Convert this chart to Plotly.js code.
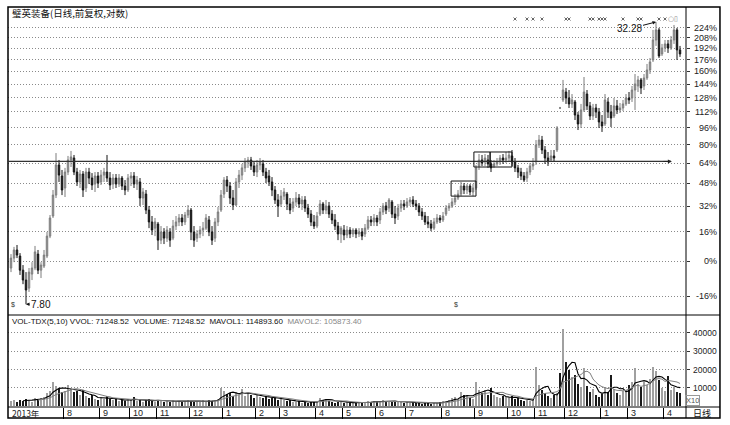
<!DOCTYPE html>
<html><head><meta charset="utf-8">
<script src="https://cdn.plot.ly/plotly-3.0.1.min.js"></script>
<style>html,body{margin:0;padding:0;background:#fff;}#chart{width:730px;height:425px;}</style>
</head><body><div id="chart"></div>
<script>
const basePrice = 9.68;
const openP = [
9.36,9.84,10.25,9.94,9.26,8.81,8.46,9.08,9.36,10.04,
9.26,9.45,9.94,10.99,12.16,13.51,15.72,14.87,14.00,15.17,
16.12,16.28,15.17,14.43,15.02,14.00,15.17,14.72,14.28,14.87,
14.43,14.94,15.17,14.72,14.28,14.72,14.28,14.72,14.14,13.86,
14.72,14.87,14.28,14.43,13.31,13.58,12.53,11.80,11.44,11.68,
10.77,11.22,10.88,11.22,10.88,11.56,11.80,12.04,11.80,12.22,
12.53,11.22,10.88,11.11,11.33,11.44,11.92,11.22,10.88,11.80,
12.53,13.58,14.57,14.14,13.31,12.85,14.43,14.94,15.49,15.96,
16.12,15.64,15.17,15.72,15.80,15.17,14.87,14.43,13.86,13.18,
12.92,13.44,13.58,12.92,12.66,13.05,13.31,12.92,13.18,12.66,
12.28,11.80,11.56,12.28,12.92,12.53,12.79,12.28,11.92,11.56,
11.11,11.33,11.05,11.33,11.11,11.33,11.11,11.22,11.11,11.44,
11.92,11.80,12.04,11.92,12.41,12.79,12.66,13.05,12.28,12.16,
12.66,12.92,12.79,13.05,13.18,12.92,12.79,12.41,12.16,11.80,
11.68,11.44,11.80,12.04,11.92,12.28,12.66,12.79,13.05,13.31,
13.58,14.14,13.86,14.14,13.72,14.00,15.64,16.12,15.96,16.12,
15.80,15.64,15.80,15.96,16.28,16.12,16.28,16.45,15.96,15.49,
15.17,14.87,14.72,15.17,15.64,15.96,17.38,17.82,16.95,16.28,
16.12,16.45,16.95,20.94,21.80,22.69,22.02,21.37,21.58,20.21,
19.32,20.73,22.46,21.16,20.11,20.94,20.52,19.51,19.32,21.58,
20.52,20.11,21.16,20.73,20.94,21.37,22.02,22.02,22.92,23.39,
24.11,23.39,24.35,25.35,26.66,29.48,31.01,27.48,28.32,28.90,
28.32,29.48,31.01,28.04];
const highP = [
10.04,10.41,10.51,10.09,9.50,9.17,9.36,9.64,10.46,10.25,
9.64,10.25,11.22,12.22,13.86,16.69,16.12,15.33,15.49,16.45,
16.87,16.53,15.49,15.33,15.25,15.49,15.49,15.09,15.17,15.17,
15.33,15.49,16.53,15.17,15.02,15.02,15.02,14.87,14.57,15.02,
15.17,15.17,14.87,14.72,14.00,13.86,12.79,12.16,12.04,11.80,
11.56,11.44,11.56,11.44,11.92,12.16,12.28,12.28,12.41,12.85,
12.66,11.56,11.33,11.56,11.80,12.28,12.16,11.56,12.04,12.72,
13.86,14.79,14.87,14.43,13.86,14.72,15.33,15.80,16.28,16.37,
16.37,15.96,16.12,16.28,16.12,15.49,15.33,14.79,14.14,13.58,
13.86,14.00,13.72,13.31,13.31,13.72,13.58,13.44,13.44,12.92,
12.53,12.22,12.41,13.18,13.05,13.18,13.05,12.53,12.28,11.80,
11.56,11.62,11.56,11.50,11.44,11.44,11.44,11.44,11.68,12.16,
12.16,12.28,12.22,12.66,12.98,13.05,13.31,13.18,12.79,12.92,
13.18,13.18,13.31,13.38,13.44,13.18,12.98,12.66,12.41,12.16,
11.92,12.04,12.28,12.22,12.41,12.85,12.98,13.31,13.58,13.86,
14.43,14.35,14.28,14.28,14.28,15.72,16.61,16.53,16.61,16.53,
16.12,16.12,16.28,16.53,16.61,16.78,16.87,16.95,16.28,15.72,
15.49,15.17,15.49,15.88,16.28,17.82,18.28,18.19,17.29,16.78,
16.95,16.95,19.12,21.05,24.11,23.16,22.92,22.46,21.80,20.52,
21.37,24.47,22.92,21.58,21.37,21.37,20.94,20.21,22.46,22.02,
21.26,22.02,21.80,21.47,21.80,22.46,22.69,23.39,24.84,24.60,
24.35,24.84,26.13,26.93,31.01,32.28,31.32,28.90,29.48,29.48,
30.08,31.79,31.32,28.61];
const lowP = [
9.17,9.64,9.84,9.04,8.63,7.80,8.30,8.81,9.26,9.08,
8.90,9.36,9.84,10.88,12.04,13.31,14.43,13.51,13.38,14.94,
15.56,14.94,14.14,14.00,13.38,13.72,14.28,13.86,13.72,14.00,
14.21,14.43,14.43,13.86,13.93,14.00,14.07,13.86,13.51,13.72,
14.14,14.00,13.86,12.79,12.85,12.28,11.44,11.05,10.99,10.25,
10.56,10.56,10.67,10.41,10.77,11.33,11.56,11.56,11.62,12.04,
10.77,10.41,10.67,10.88,10.99,11.33,10.99,10.51,10.67,11.56,
12.41,13.31,13.72,12.92,12.53,12.79,14.00,14.57,15.17,15.49,
15.33,14.87,14.79,15.33,14.87,14.35,14.14,13.44,12.92,12.10,
12.72,13.18,12.53,12.28,12.41,12.79,12.66,12.53,12.41,12.04,
11.56,11.39,11.44,12.16,12.28,12.28,12.04,11.68,11.33,10.77,
10.62,10.77,10.88,10.88,10.94,10.88,10.94,10.77,10.94,11.33,
11.56,11.56,11.56,11.68,12.22,12.28,12.41,12.04,11.68,11.92,
12.41,12.53,12.66,12.79,12.72,12.53,12.16,11.92,11.62,11.44,
11.27,11.33,11.68,11.74,11.80,12.16,12.47,12.66,12.85,13.18,
13.44,13.58,13.58,13.51,13.44,13.86,15.33,15.64,15.64,15.49,
15.17,15.49,15.64,15.72,15.80,15.88,15.96,15.64,15.17,14.72,
14.57,14.43,14.43,14.94,15.33,15.72,17.12,16.61,15.80,15.64,
15.96,15.96,16.78,20.84,21.58,21.37,20.94,20.94,19.71,18.74,
18.93,20.52,20.73,19.71,19.71,19.91,18.93,18.56,19.12,19.91,
19.03,19.91,20.31,20.42,20.62,21.16,21.37,21.58,20.73,22.69,
22.46,22.92,24.11,24.85,26.39,28.61,26.93,27.20,27.76,27.62,
28.04,28.90,26.66,27.07];
const closeP = [
9.84,10.25,9.99,9.26,8.81,8.38,9.17,9.36,10.15,9.26,
9.50,9.99,10.99,12.04,13.51,15.72,14.94,13.86,15.17,16.12,
16.37,15.17,14.43,15.02,13.86,15.17,14.72,14.21,14.87,14.35,
14.94,15.17,14.72,14.21,14.72,14.28,14.72,14.14,13.86,14.72,
14.87,14.28,14.57,13.31,13.72,12.53,11.80,11.33,11.80,10.77,
11.22,10.88,11.33,10.77,11.56,11.80,12.04,11.80,12.22,12.53,
11.22,10.77,11.11,11.33,11.44,12.04,11.22,10.77,11.80,12.41,
13.51,14.57,14.14,13.31,12.85,14.43,14.94,15.49,15.96,16.12,
15.64,15.17,15.72,15.96,15.17,14.72,14.43,13.86,13.18,12.79,
13.44,13.72,12.92,12.53,13.05,13.31,12.92,13.18,12.66,12.28,
11.80,11.56,12.16,12.92,12.53,12.79,12.28,11.92,11.56,11.11,
11.44,11.05,11.33,11.11,11.33,11.11,11.22,10.99,11.44,11.92,
11.80,12.04,11.80,12.41,12.79,12.53,13.18,12.28,12.04,12.66,
12.92,12.79,13.05,13.18,12.92,12.79,12.41,12.16,11.80,11.68,
11.44,11.80,12.04,11.92,12.16,12.66,12.79,13.05,13.31,13.58,
14.14,13.86,14.14,13.72,14.00,15.49,16.12,15.88,16.28,15.80,
15.49,15.80,15.96,16.28,16.12,16.28,16.53,15.96,15.49,15.17,
14.87,14.57,15.17,15.64,15.80,17.38,17.82,16.95,16.28,15.96,
16.45,16.28,18.93,20.94,22.92,22.02,21.37,21.80,20.21,19.32,
20.73,22.69,21.16,20.11,20.94,20.52,19.51,19.12,21.80,20.52,
19.91,21.16,20.73,20.94,21.37,22.02,21.80,22.92,23.63,24.11,
23.16,24.35,25.35,26.40,29.48,31.01,27.20,28.32,28.90,28.32,
29.48,31.01,28.04,27.48];
const volume = [
2800,3200,2500,3600,3000,4200,3400,2600,4800,3800,
4400,5200,7000,8200,13500,11000,9200,7800,8600,11800,
9500,7600,8200,6200,9000,5400,4800,6000,4200,3600,
5200,4000,5600,3800,3200,4400,3000,3600,2800,4200,
3400,5000,3000,3800,2600,3400,4000,3000,2400,3600,
2800,2200,3000,2400,3400,2600,3000,2200,2800,3600,
3000,2400,2800,2200,3200,2600,3400,2800,3200,4200,
10200,8600,6800,7400,5600,8000,6400,9200,5800,7000,
6200,4800,6600,5200,4400,5600,3800,4600,5200,3600,
4000,3400,3000,3600,2600,2200,2800,2000,2400,1800,
2200,2600,3000,4800,3600,4200,2800,2400,2000,2600,
2200,1800,2400,2000,1600,2200,1800,2000,2400,2800,
2200,3000,2400,2800,3200,2600,3000,2400,2800,2200,
2600,2000,2400,1800,2200,1600,2000,1400,1800,1600,
1400,2000,1800,2400,3000,2600,3600,4400,5200,4000,
8000,6400,5600,4800,4000,13000,9000,7400,8800,6200,
10000,6000,5200,4600,5800,5000,4400,5400,3800,4600,
3400,3000,3600,2800,4000,21500,11500,9000,7000,5600,
4800,6400,7200,18000,42000,24000,20000,16000,17000,12000,
10500,21000,11000,8000,9400,6000,5200,6800,10500,8000,
17000,9500,7000,6200,8400,9000,11500,13500,21000,12000,
10500,13000,11500,15000,21500,19000,14500,10000,8500,16500,
9000,10500,8000,7000];
const pctTicks = [-16,0,16,32,48,64,80,96,112,128,144,160,176,192,208,224];
const volTicks = [10000,20000,30000,40000];
const monthStart = [18,30,40,49,60,71,82,90,102,111,122,132,144,155,166,175,185,197,206,218];
const monthLabels = ['8','9','10','11','12','1','2','3','4','5','6','7','8','9','10','11','12','1','3','4'];
const infoMarks = [168,172,174,177,185,186,193,194,196,197,198,204,209,210,216,218];
const lowIdx = 5, lowVal = 7.80;
const highIdx = 215, highVal = 32.28;
const levelPrice = 16.0;
const titleText = '璧英装备(日线,前复权,对数)';
const volLabel = 'VOL-TDX(5,10) VVOL: 71248.52  VOLUME: 71248.52  MAVOL1: 114893.60  <span style="color:#888">MAVOL2: 105873.40</span>';

const idx = openP.map((_, i) => i);
const isUp = closeP.map((c, i) => c > openP[i]);
function ma(arr, n) { return arr.map((_, i) => i < n - 1 ? null : arr.slice(i - n + 1, i + 1).reduce((a, b) => a + b, 0) / n); }
const L10 = v => Math.log10(v);

const traces = [
  {type:'candlestick', x:idx, open:openP, high:highP, low:lowP, close:closeP, xaxis:'x', yaxis:'y',
   increasing:{line:{color:'#7c7c7c', width:1}, fillcolor:'#a8a8a8'},
   decreasing:{line:{color:'#151515', width:1}, fillcolor:'#151515'}, whiskerwidth:0, hoverinfo:'skip'},
  {type:'bar', x:idx, y:volume, xaxis:'x', yaxis:'y2', width:0.62,
   marker:{color:isUp.map(u => u ? '#a0a0a0' : '#1a1a1a'), line:{width:0}}, hoverinfo:'skip'},
  {type:'scatter', mode:'lines', x:idx, y:ma(volume,5), xaxis:'x', yaxis:'y2', line:{color:'#000', width:1.1}, hoverinfo:'skip'},
  {type:'scatter', mode:'lines', x:idx, y:ma(volume,10), xaxis:'x', yaxis:'y2', line:{color:'#808080', width:1}, hoverinfo:'skip'},
  {type:'scatter', mode:'markers', x:infoMarks, y:infoMarks.map(() => 0.961), xaxis:'x', yaxis:'y3',
   marker:{symbol:'x-thin', size:3, line:{width:0.9, color:'#555'}}, hoverinfo:'skip'}
];

const ann = [];
const baseFont = {family:'Liberation Sans, Arial, sans-serif', size:9, color:'#222'};
ann.push({xref:'paper', yref:'paper', x:0.003, y:0.985, xanchor:'left', yanchor:'middle', text:titleText, showarrow:false,
  font:{family:'Noto Sans CJK SC, sans-serif', size:9.5, color:'#111'}});
ann.push({xref:'paper', yref:'paper', x:0.003, y:0.215, xanchor:'left', yanchor:'middle', text:volLabel, showarrow:false,
  font:{family:'Liberation Sans, Arial, sans-serif', size:8, color:'#111'}});
pctTicks.forEach(p => ann.push({xref:'paper', yref:'y', x:1.0487, y:L10(basePrice*(1+p/100)), xanchor:'right', yanchor:'middle',
  text:p + '%', showarrow:false, font:baseFont}));
volTicks.forEach(v => ann.push({xref:'paper', yref:'y2', x:1.0487, y:v, xanchor:'right', yanchor:'middle',
  text:String(v), showarrow:false, font:{family:'Liberation Sans, Arial, sans-serif', size:8.5, color:'#222'}}));
ann.push({xref:'paper', yref:'paper', x:1.0103, y:0.0175, xanchor:'center', yanchor:'middle', text:'X10', showarrow:false,
  bordercolor:'#999', borderwidth:1, borderpad:0, font:{family:'Liberation Sans, Arial, sans-serif', size:7.5, color:'#555'}});
monthStart.forEach((m, k) => ann.push({xref:'x', yref:'paper', x:m - 0.5, y:-0.016, xanchor:'left', yanchor:'middle', xshift:1,
  text:monthLabels[k], showarrow:false, font:{family:'Liberation Sans, Arial, sans-serif', size:9, color:'#222'}}));
ann.push({xref:'paper', yref:'paper', x:0.003, y:-0.016, xanchor:'left', yanchor:'middle', text:'2013年', showarrow:false,
  font:{family:'Noto Sans CJK SC, sans-serif', size:8.5, color:'#222'}});
ann.push({xref:'paper', yref:'paper', x:1.0236, y:-0.016, xanchor:'center', yanchor:'middle', text:'日线', showarrow:false,
  font:{family:'Noto Sans CJK SC, sans-serif', size:9, color:'#111'}});
ann.push({xref:'x', yref:'y', x:lowIdx, y:L10(lowVal), ax:15, ay:0, text:lowVal.toFixed(2), showarrow:true,
  arrowhead:2, arrowsize:0.7, arrowwidth:1, arrowcolor:'#111', standoff:0, font:{family:'Liberation Sans, Arial, sans-serif', size:10, color:'#111'}});
ann.push({xref:'x', yref:'y', x:highIdx, y:L10(highVal), ax:-27, ay:7, text:highVal.toFixed(2), showarrow:true,
  arrowhead:2, arrowsize:0.7, arrowwidth:1, arrowcolor:'#111', standoff:0, font:{family:'Liberation Sans, Arial, sans-serif', size:10, color:'#111'}});
ann.push({xref:'x', yref:'y', x:220.3, y:L10(levelPrice), ax:-10, ay:0, text:'', showarrow:true,
  arrowhead:2, arrowsize:0.8, arrowwidth:1, arrowcolor:'#222', standoff:0});
[0.67, 148.3].forEach(m => ann.push({xref:'x', yref:'paper', x:m, y:0.243, text:'$', showarrow:false,
  font:{family:'Liberation Sans, Arial, sans-serif', size:7, color:'#333'}}));
ann.push({xref:'paper', yref:'paper', x:0.9912, y:0.985, text:'○▯', showarrow:false,
  font:{family:'DejaVu Sans, sans-serif', size:7, color:'#888'}});

const shapes = [
  {type:'rect', xref:'paper', yref:'paper', x0:0, x1:1.0501, y0:-0.0275, y1:1, line:{color:'#000', width:1.5}},
  {type:'line', xref:'paper', yref:'paper', x0:0, x1:1.0501, y0:0.23, y1:0.23, line:{color:'#000', width:1}},
  {type:'line', xref:'paper', yref:'paper', x0:0, x1:1.0501, y0:0, y1:0, line:{color:'#000', width:1}},
  {type:'line', xref:'paper', yref:'paper', x0:1, x1:1, y0:-0.0275, y1:1, line:{color:'#000', width:1}},
  {type:'line', xref:'x', yref:'y', x0:-1, x1:220, y0:levelPrice, y1:levelPrice, line:{color:'#333', width:1.2}},
  {type:'rect', xref:'x', yref:'y', x0:146.7, x1:155, y0:13.44, y1:14.50, line:{color:'#111', width:1}},
  {type:'rect', xref:'x', yref:'y', x0:154.3, x1:159.7, y0:15.56, y1:16.78, line:{color:'#111', width:1}},
  {type:'rect', xref:'x', yref:'y', x0:159.7, x1:167, y0:15.56, y1:16.78, line:{color:'#111', width:1}}
];

const layout = {
  width:730, height:425, margin:{l:8, r:44, t:7, b:18}, paper_bgcolor:'#fff', plot_bgcolor:'#fff', showlegend:false,
  font:baseFont, bargap:0,
  xaxis:{range:[-1,225], anchor:'y2', showgrid:false, zeroline:false, showline:false, tickmode:'array',
    tickvals:monthStart.map(m => m - 0.5), ticks:'outside', ticklen:11, tickcolor:'#000', tickwidth:1,
    showticklabels:false, rangeslider:{visible:false}, fixedrange:true},
  yaxis:{domain:[0.23,1], type:'log', range:[L10(7.39), L10(34.8)], side:'right', anchor:'x', tickmode:'array',
    tickvals:pctTicks.map(p => basePrice*(1+p/100)), showticklabels:false, ticks:'outside', ticklen:3, tickcolor:'#333',
    showgrid:true, gridcolor:'#8a8a8a', griddash:'1px,2px', gridwidth:1, zeroline:false, showline:false, fixedrange:true},
  yaxis2:{domain:[0,0.23], range:[-380,49800], side:'right', anchor:'x', tickmode:'array', tickvals:volTicks,
    showticklabels:false, ticks:'outside', ticklen:3, tickcolor:'#333', showgrid:true, gridcolor:'#8a8a8a',
    griddash:'1px,2px', gridwidth:1, zeroline:false, showline:false, fixedrange:true},
  yaxis3:{domain:[0.23,1], range:[0,1], overlaying:'y', visible:false, fixedrange:true},
  annotations:ann, shapes:shapes
};
Plotly.newPlot('chart', traces, layout, {staticPlot:true, displayModeBar:false});
</script></body></html>
